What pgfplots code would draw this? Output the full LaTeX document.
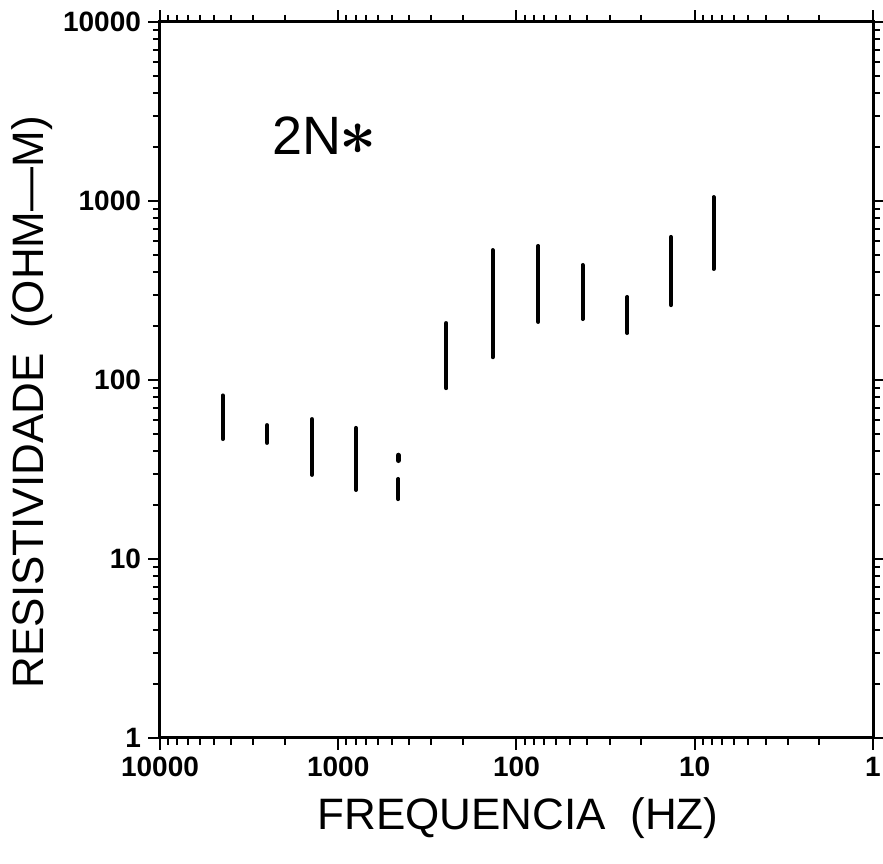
\documentclass[border=0pt]{standalone}
\usepackage{fontspec}
\setmainfont{Liberation Sans}
\usepackage{graphicx}
\usepackage{pgfplots}
\pgfplotsset{compat=1.18}
\begin{document}
\begin{tikzpicture}
\begin{axis}[
  scale only axis,
  width=356.5pt, height=358pt,
  xmode=log, ymode=log,
  x dir=reverse,
  xmin=1, xmax=10000, ymin=1, ymax=10000,
  xtick={1,10,100,1000,10000},
  xticklabels={1,10,100,1000,10000},
  ytick={1,10,100,1000,10000},
  yticklabels={1,10,100,1000,10000},
  /pgf/number format/assume math mode=true,
  tick label style={font=\fontsize{14}{16}\selectfont\bfseries},
  tick align=outside,
  major tick length=6pt,
  minor tick length=3.5pt,
  every tick/.style={black, line width=1pt},
  axis line style={line width=1.5pt},
  xlabel={FREQUENCIA\ \ (HZ)},
  ylabel={RESISTIVIDADE\ \ (OHM---M)},
  label style={font=\fontsize{22}{24}\selectfont},
  xlabel style={at={(axis description cs:0.502,-0.112)}, anchor=center},
  ylabel style={at={(axis description cs:-0.18,0.469)}, anchor=center, rotate=0},
  clip=false,
]
\addplot[black, line width=2pt, line cap=round] coordinates {(4444,46.8) (4444,82)};
\addplot[black, line width=2pt, line cap=round] coordinates {(2506,44.5) (2506,56)};
\addplot[black, line width=2pt, line cap=round] coordinates {(1405,29.5) (1405,60.5)};
\addplot[black, line width=2pt, line cap=round] coordinates {(796,24.3) (796,54)};
\addplot[black, line width=2pt, line cap=round] coordinates {(460,21.6) (460,28)};
\addplot[black, line width=2.5pt, line cap=round] coordinates {(460,35.5) (460,38)};
\addplot[black, line width=2pt, line cap=round] coordinates {(248,90) (248,208)};
\addplot[black, line width=2pt, line cap=round] coordinates {(136,134) (136,532)};
\addplot[black, line width=2pt, line cap=round] coordinates {(75.5,211) (75.5,561)};
\addplot[black, line width=2pt, line cap=round] coordinates {(42.6,219) (42.6,439)};
\addplot[black, line width=2pt, line cap=round] coordinates {(23.9,183) (23.9,291)};
\addplot[black, line width=2pt, line cap=round] coordinates {(13.6,262) (13.6,630)};
\addplot[black, line width=2pt, line cap=round] coordinates {(7.85,417) (7.85,1052)};
\node[anchor=base west, font=\fontsize{27}{30}\selectfont, inner sep=0pt] at (rel axis cs:0.157,0.815) {2N\kern-1pt\raisebox{0pt}{\scalebox{1.3}{\boldmath$\ast$}}};
\end{axis}
\pgfresetboundingbox
\path (current axis.south west) ++(-80pt,-63pt) coordinate (bbA);
\path (current axis.north east) ++(5pt,11pt) coordinate (bbB);
\path (bbA) rectangle (bbB);
\end{tikzpicture}
\end{document}
